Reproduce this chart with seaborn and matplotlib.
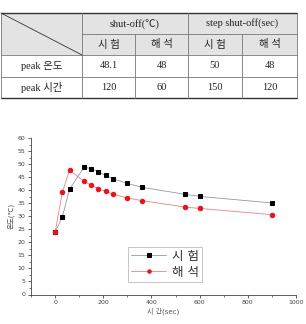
import matplotlib
matplotlib.use('Agg')
import matplotlib.pyplot as plt
import seaborn as sns
import pandas as pd

# --- 표 데이터 ---
col_groups = ['shut-off(℃)', 'step shut-off(sec)']
sub_cols = ['시 험', '해 석', '시 험', '해 석']
row_names = ['peak 온도', 'peak 시간']
table_vals = [['48.1', '48', '50', '48'],
              ['120', '60', '150', '120']]

# --- 그래프 데이터 ---
time_exp = [0, 30, 60, 120, 150, 180, 210, 240, 300, 360, 540, 600, 900]
temp_exp = [23.8, 29.7, 40.4, 48.8, 48.3, 47.0, 45.7, 44.4, 42.6, 41.1, 38.4, 37.6, 35.1]
time_ana = [0, 30, 60, 120, 150, 180, 210, 240, 300, 360, 540, 600, 900]
temp_ana = [23.8, 39.2, 47.6, 43.4, 41.9, 40.6, 39.5, 38.5, 37.0, 36.0, 33.5, 33.0, 30.6]
labels = ['시 험', '해 석']

sns.set_theme(style='ticks')
plt.rcParams['font.family'] = ['DejaVu Sans', 'Noto Sans CJK KR']

fig = plt.figure(figsize=(3.06, 3.24), dpi=100)
W, H = 306, 324

# ---------------------------------------------------------
# 1. 표
# ---------------------------------------------------------
tax = fig.add_axes([0, 0, 1, 1])
tax.set_xlim(0, W)
tax.set_ylim(H, 0)
tax.axis('off')

xs = [1, 82, 135, 188, 242, 297]
ys = [13, 34, 55, 77, 98]
tfont = ['Liberation Serif', 'Noto Sans CJK KR']
tfs = 7.5

tax.add_patch(plt.Rectangle((xs[0], ys[0]), xs[-1] - xs[0], ys[2] - ys[0],
                            facecolor='#e3e3e3', edgecolor='none'))
line_c = '#777777'
for y in ys[1:-1]:
    x0 = xs[1] if y == ys[1] else xs[0]
    tax.plot([x0, xs[-1]], [y, y], color=line_c, lw=0.6)
tax.plot([xs[0], xs[-1]], [ys[0], ys[0]], color='#333333', lw=1.0)
tax.plot([xs[0], xs[-1]], [ys[-1], ys[-1]], color='#333333', lw=1.0)
for i, x in enumerate(xs):
    if i in (2, 4):
        tax.plot([x, x], [ys[1], ys[-1]], color=line_c, lw=0.6)
    else:
        tax.plot([x, x], [ys[0], ys[-1]], color=line_c, lw=0.6)
tax.plot([xs[0], xs[1]], [ys[0], ys[2]], color='#333333', lw=0.6)

for g, name in enumerate(col_groups):
    cx = (xs[1 + 2 * g] + xs[3 + 2 * g]) / 2
    tax.text(cx, (ys[0] + ys[1]) / 2, name, ha='center', va='center',
             fontsize=tfs, family=tfont, color='#222222')
for j, name in enumerate(sub_cols):
    tax.text((xs[j + 1] + xs[j + 2]) / 2, (ys[1] + ys[2]) / 2, name,
             ha='center', va='center', fontsize=tfs, family=tfont, color='#222222')
for i, rname in enumerate(row_names):
    cy = (ys[i + 2] + ys[i + 3]) / 2
    tax.text((xs[0] + xs[1]) / 2, cy, rname, ha='center', va='center',
             fontsize=tfs, family=tfont, color='#222222')
    for j, v in enumerate(table_vals[i]):
        tax.text((xs[j + 1] + xs[j + 2]) / 2, cy, v, ha='center', va='center',
                 fontsize=tfs, family=tfont, color='#222222')

# ---------------------------------------------------------
# 2. 그래프
# ---------------------------------------------------------
ax = fig.add_axes([31 / W, 1 - 294.5 / H, (296 - 31) / W, (294.5 - 138) / H])
df_exp = pd.DataFrame({'time': time_exp, 'temp': temp_exp})
df_ana = pd.DataFrame({'time': time_ana, 'temp': temp_ana})

sns.lineplot(data=df_exp, x='time', y='temp', ax=ax, color='#999999', lw=0.6,
             marker='s', markersize=3.2, markerfacecolor='black',
             markeredgecolor='black', label=labels[0], zorder=3)
sns.lineplot(data=df_ana, x='time', y='temp', ax=ax, color='#f08080', lw=0.6,
             marker='o', markersize=3.2, markerfacecolor='#e8141c',
             markeredgecolor='#e8141c', label=labels[1], zorder=4)

ax.set_xlim(-100, 1000)
ax.set_ylim(0, 60)
ax.set_xticks([0, 200, 400, 600, 800, 1000])
ax.set_xticks(range(-100, 1001, 100), minor=True)
ax.set_yticks(range(0, 61, 5))
ax.set_yticks([v + 2.5 for v in range(0, 60, 5)], minor=True)
ax.tick_params(axis='both', which='major', labelsize=4.5, length=2.5, width=0.6,
               colors='#444444', pad=1.5)
ax.tick_params(axis='both', which='minor', length=1.5, width=0.5, colors='#444444')
for s in ['top', 'right']:
    ax.spines[s].set_visible(False)
for s in ['left', 'bottom']:
    ax.spines[s].set_linewidth(0.6)
    ax.spines[s].set_color('#444444')

ax.set_xlabel('시 간(sec)', fontsize=5, color='#555555', labelpad=2)
ax.set_ylabel('온도(℃)', fontsize=5, color='#555555', labelpad=2)

leg = ax.legend(loc='lower left', bbox_to_anchor=(0.366, 0.08), fontsize=9,
                frameon=True, fancybox=False, edgecolor='#aaaaaa',
                handlelength=2.8, handletextpad=0.5, borderpad=0.25,
                labelspacing=0.25, borderaxespad=0)
leg.get_frame().set_linewidth(0.6)
for h in leg.legend_handles:
    h.set_markersize(2.5)
for t in leg.get_texts():
    t.set_color('#333333')

fig.savefig('out.png', dpi=100)
